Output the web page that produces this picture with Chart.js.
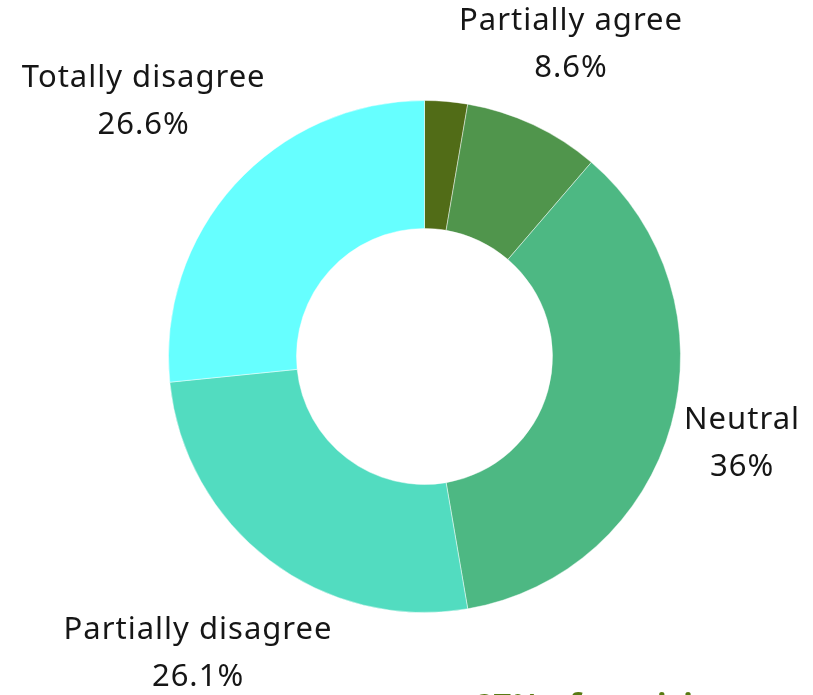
<!DOCTYPE html>
<html>
<head>
<meta charset="utf-8">
<script src="https://cdn.jsdelivr.net/npm/chart.js@4"></script>
<style>
  html, body { margin: 0; padding: 0; background: #fff; overflow: hidden; }
  canvas { display: block; }
</style>
</head>
<body>
<canvas id="donut" width="813" height="695"></canvas>
<script>
// survey answers, clockwise from 12 o'clock
var answers = ['Totally agree', 'Partially agree', 'Neutral', 'Partially disagree', 'Totally disagree'];
var shares = [2.7, 8.6, 36, 26.1, 26.6];
var shareLabels = ['2.7%', '8.6%', '36%', '26.1%', '26.6%'];
var sliceColors = ['#516c17', '#50954c', '#4db883', '#52dcc0', '#66ffff'];

var labelFont = '31px "Noto Sans", "Open Sans", sans-serif';

// name + percentage outside each slice, pushed out so the text block clears the ring
var outsideLabels = {
  id: 'outsideLabels',
  afterDatasetsDraw: function (chart) {
    var ctx = chart.ctx;
    var meta = chart.getDatasetMeta(0);
    ctx.save();
    ctx.font = labelFont;
    ctx.letterSpacing = '1px';
    ctx.fillStyle = '#161616';
    ctx.textAlign = 'center';
    ctx.textBaseline = 'middle';
    meta.data.forEach(function (arc, i) {
      if (shares[i] < 5) return; // too thin to label
      var p = arc.getProps(['x', 'y', 'startAngle', 'endAngle', 'outerRadius']);
      var mid = (p.startAngle + p.endAngle) / 2;
      var cos = Math.cos(mid), sin = Math.sin(mid);
      var w = Math.max(ctx.measureText(answers[i]).width, ctx.measureText(shareLabels[i]).width);
      var h = 72;
      var r = p.outerRadius + 8 + Math.abs(cos) * w / 2 + Math.abs(sin) * h / 2;
      var cx = p.x + r * cos;
      var cy = p.y + r * sin;
      ctx.fillText(answers[i], cx, cy - 24);
      ctx.fillText(shareLabels[i], cx, cy + 23);
    });
    // caption under the chart, mostly below the page edge
    ctx.letterSpacing = '0px';
    ctx.font = 'bold 32px "Noto Sans", "Open Sans", sans-serif';
    ctx.fillStyle = '#587a12';
    ctx.textAlign = 'left';
    ctx.textBaseline = 'top';
    ctx.fillText('27% of participants agree', 475, 692);
    ctx.restore();
  }
};

new Chart(document.getElementById('donut'), {
  type: 'doughnut',
  data: {
    labels: answers,
    datasets: [{
      data: shares,
      backgroundColor: sliceColors,
      borderColor: 'rgba(255,255,255,0.45)',
      borderWidth: 1
    }]
  },
  options: {
    responsive: false,
    animation: false,
    cutout: '50%',
    layout: { padding: { left: 167, right: 131, top: 100, bottom: 82 } },
    plugins: {
      legend: { display: false },
      tooltip: { enabled: false }
    }
  },
  plugins: [outsideLabels]
});
</script>
</body>
</html>
